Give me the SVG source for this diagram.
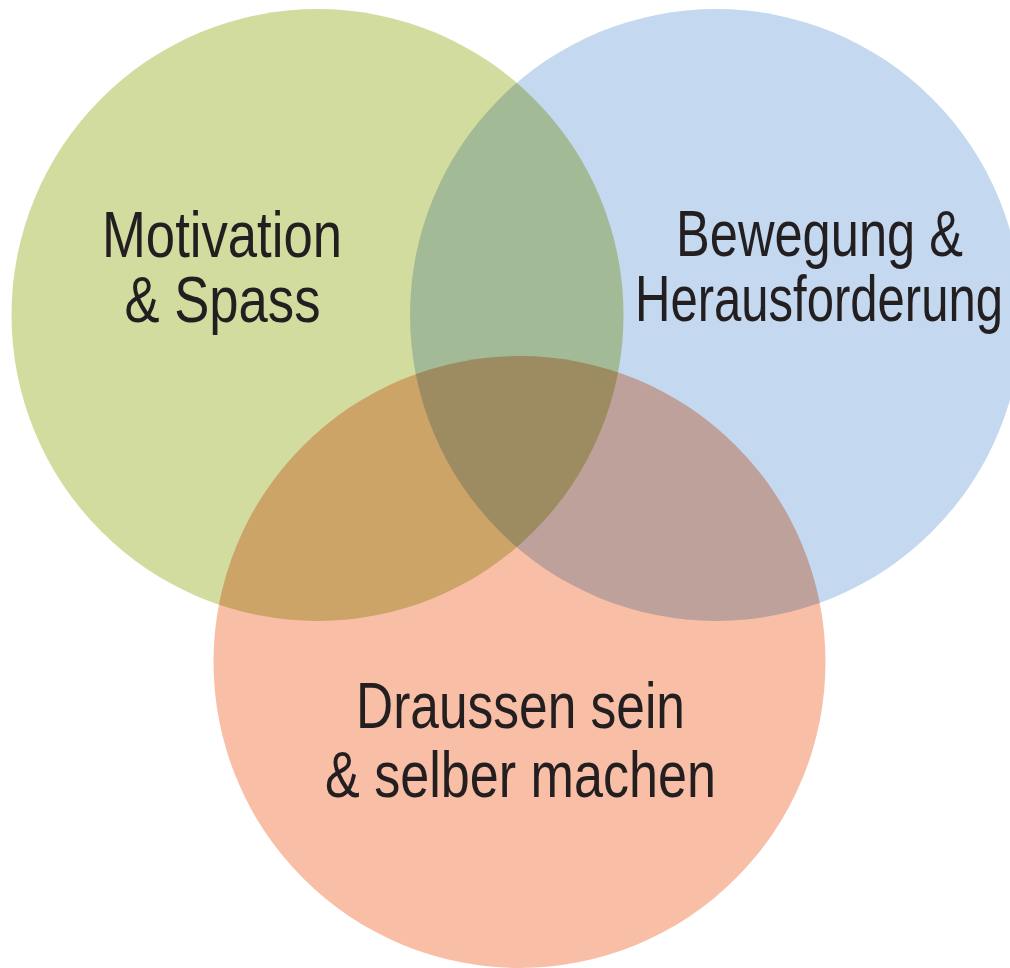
<svg xmlns="http://www.w3.org/2000/svg" width="1010" height="968" viewBox="0 0 1010 968">
<style>
.c{mix-blend-mode:multiply}
.t{font-family:"Liberation Sans",Arial,sans-serif;font-size:65px;fill:#231f20;text-anchor:middle}
</style>
<rect width="1010" height="968" fill="#ffffff"/>
<g id="circles" style="isolation:isolate">
<g id="motivation"><circle class="c" cx="317.5" cy="315" r="306" fill="#d3dc9f"/></g>
<g id="bewegung"><circle class="c" cx="716" cy="315" r="306" fill="#c4d8ef"/></g>
<g id="draussen"><circle class="c" cx="519.5" cy="662" r="306" fill="#f8bea6"/></g>
</g>
<g id="labels">
<text class="t" x="222" y="257" textLength="240" lengthAdjust="spacingAndGlyphs">Motivation</text>
<text class="t" x="222.5" y="322" textLength="196" lengthAdjust="spacingAndGlyphs">&amp; Spass</text>
<text class="t" x="819.5" y="256" textLength="287" lengthAdjust="spacingAndGlyphs">Bewegung &amp;</text>
<text class="t" x="819" y="321" textLength="368" lengthAdjust="spacingAndGlyphs">Herausforderung</text>
<text class="t" x="520.5" y="728" textLength="329" lengthAdjust="spacingAndGlyphs">Draussen sein</text>
<text class="t" x="520.5" y="797" textLength="391" lengthAdjust="spacingAndGlyphs">&amp; selber machen</text>
</g>
</svg>
